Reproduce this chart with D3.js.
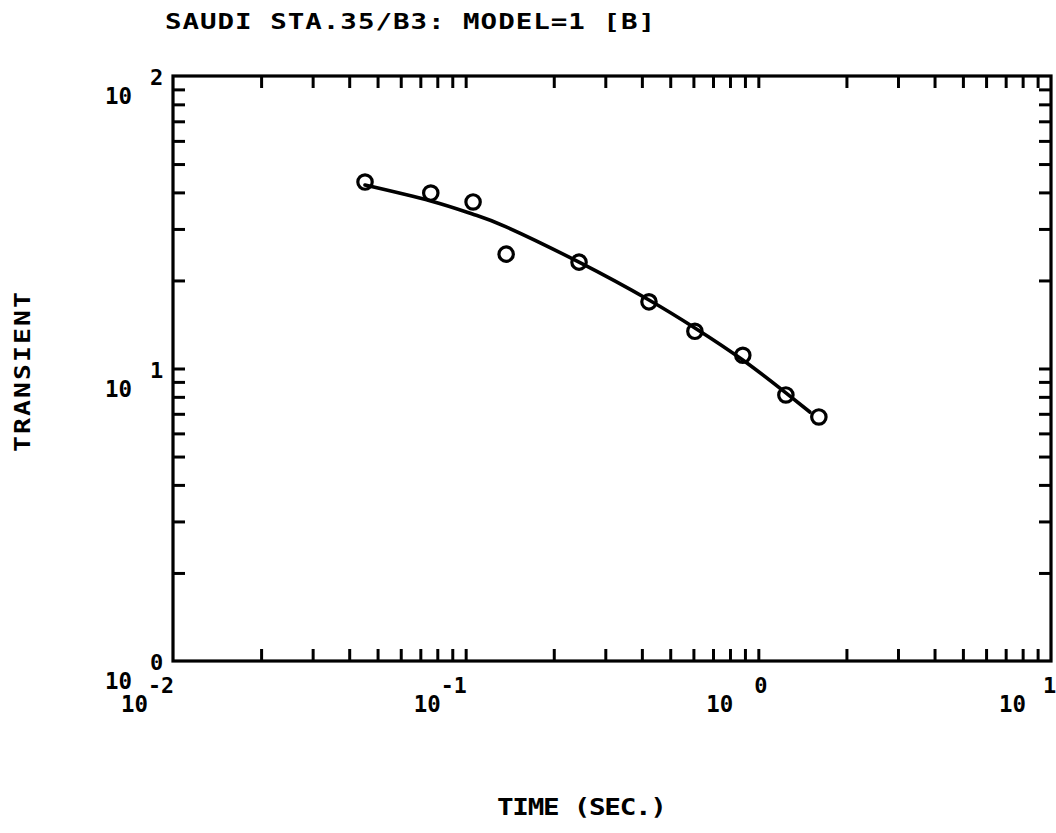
<!DOCTYPE html>
<html><head><meta charset="utf-8">
<script src="https://cdn.jsdelivr.net/npm/d3@7"></script>
<style>body{margin:0;background:#fff}svg{display:block}</style>
</head><body>
<svg id="chart" width="1056" height="833"></svg>
<script>
const titleText = "SAUDI STA.35/B3: MODEL=1 [B]";
const xLabel = "TIME (SEC.)";
const yLabel = "TRANSIENT";
const xDomain = [0.01, 10];
const yDomain = [1, 100];
const xDecades = [-2, -1, 0, 1];
const yDecades = [0, 1, 2];
// observed data (circles)
const obsTime = [0.0453, 0.076, 0.106, 0.1375, 0.244, 0.423, 0.607, 0.885, 1.242, 1.61];
const obsValue = [43.4, 39.8, 37.1, 24.6, 23.1, 16.9, 13.4, 11.1, 8.12, 6.83];
// model fit (line)
const fitTime = [0.0453, 0.076, 0.106, 0.1375, 0.244, 0.423, 0.607, 0.885, 1.242, 1.5];
const fitValue = [42.4, 37.4, 33.7, 30.5, 23.1, 17.15, 13.76, 10.69, 8.25, 7.10];

const svg = d3.select("#chart");
const L = 173, R = 1051, T = 76, B = 661;
const x = d3.scaleLog().domain(xDomain).range([L, R]);
const y = d3.scaleLog().domain(yDomain).range([B, T]);
const font = "'DejaVu Sans Mono', monospace";

// ticks (inward, all four sides)
const tickLen = 12;
const xt = x.ticks().filter(v => v > xDomain[0]*1.001 && v < xDomain[1]*0.999);
const yt = y.ticks().filter(v => v > yDomain[0]*1.001 && v < yDomain[1]*0.999);
function styleAxis(g){
  g.select(".domain").remove();
  g.selectAll(".tick line").attr("stroke","#000").attr("stroke-width",3);
  g.selectAll(".tick text").remove();
}
svg.append("g").attr("transform",`translate(0,${B})`)
  .call(d3.axisBottom(x).tickValues(xt).tickSize(-tickLen).tickFormat("")).call(styleAxis);
svg.append("g").attr("transform",`translate(0,${T})`)
  .call(d3.axisTop(x).tickValues(xt).tickSize(-tickLen).tickFormat("")).call(styleAxis);
svg.append("g").attr("transform",`translate(${L},0)`)
  .call(d3.axisLeft(y).tickValues(yt).tickSize(-tickLen).tickFormat("")).call(styleAxis);
svg.append("g").attr("transform",`translate(${R},0)`)
  .call(d3.axisRight(y).tickValues(yt).tickSize(-tickLen).tickFormat("")).call(styleAxis);

// frame
svg.append("rect").attr("x",L).attr("y",T).attr("width",R-L).attr("height",B-T)
  .attr("fill","none").attr("stroke","#000").attr("stroke-width",3.2);

// fit line
const line = d3.line().x(d=>x(d[0])).y(d=>y(d[1])).curve(d3.curveNatural);
svg.append("path").datum(fitTime.map((t,i)=>[t,fitValue[i]]))
  .attr("d",line).attr("fill","none").attr("stroke","#000").attr("stroke-width",3.6)
  .attr("stroke-linejoin","round").attr("stroke-linecap","round");

// observed circles
svg.append("g").selectAll("circle").data(obsTime.map((t,i)=>[t,obsValue[i]])).join("circle")
  .attr("cx",d=>x(d[0])).attr("cy",d=>y(d[1])).attr("r",7.2)
  .attr("fill","none").attr("stroke","#000").attr("stroke-width",3.2);

// wide plotter-style text helper
function wideText(px, py, str, size, width, sx, rotate){
  const g = svg.append("g").attr("transform",
    `translate(${px},${py})` + (rotate ? " rotate(-90)" : "") + ` scale(${sx},1)`);
  g.append("text").attr("x",0).attr("y",0).attr("font-family",font).attr("font-weight","bold")
    .attr("font-size",size).attr("textLength",width/sx).attr("lengthAdjust","spacing").text(str);
}

// y tick labels
yDecades.forEach(e=>{
  const yy = y(Math.pow(10,e));
  svg.append("text").attr("x",105).attr("y",yy+28).attr("font-family",font).attr("font-weight","bold")
    .attr("font-size",23).attr("textLength",27).attr("lengthAdjust","spacingAndGlyphs").text("10");
  svg.append("text").attr("x",150).attr("y",yy+9).attr("font-family",font).attr("font-weight","bold")
    .attr("font-size",22).text(String(e));
});
// x tick labels
xDecades.forEach(e=>{
  const xx = x(Math.pow(10,e));
  svg.append("text").attr("x",xx-52).attr("y",712).attr("font-family",font).attr("font-weight","bold")
    .attr("font-size",23).attr("textLength",27).attr("lengthAdjust","spacingAndGlyphs").text("10");
  const s = e<0 ? "-"+Math.abs(e) : String(e);
  const sx = e<0 ? xx-25 : Math.min(xx-4, 1043);
  svg.append("text").attr("x", sx).attr("y",693).attr("font-family",font).attr("font-weight","bold")
    .attr("font-size",22).attr("textLength", e<0 ? 26 : null).attr("lengthAdjust","spacingAndGlyphs").text(s);
});

// title
wideText(165, 29, titleText, 22, 490, 1.25, false);
// x label
wideText(497, 815, xLabel, 23, 170, 1.2, false);
// y label
wideText(30, 452, yLabel, 22, 160, 1.2, true);
</script>
</body></html>
